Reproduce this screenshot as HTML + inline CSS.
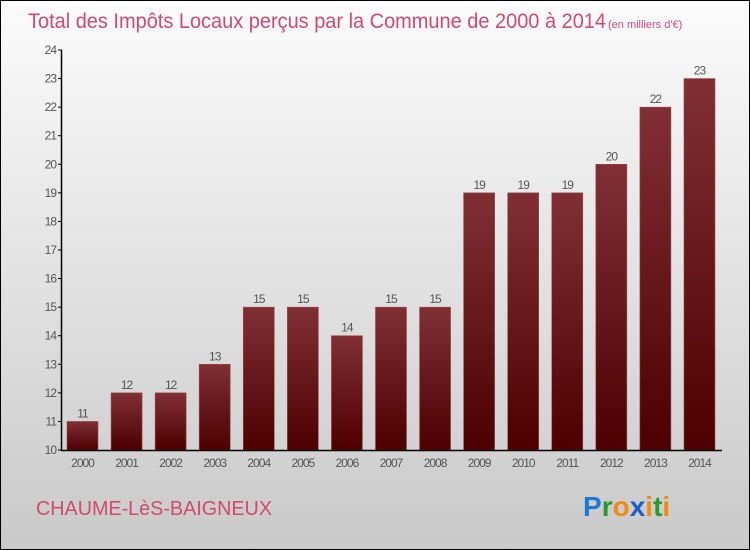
<!DOCTYPE html>
<html><head><meta charset="utf-8"><style>
body{margin:0}
#wrap{width:748px;height:548px;border:1px solid #000;background:linear-gradient(#fbfbfb,#c9c9c9);position:relative;overflow:hidden;font-family:"Liberation Sans",sans-serif}
</style></head><body>
<div id="wrap">
<svg id="chart" width="748" height="548">
<defs><linearGradient id="bg" x1="0" y1="0" x2="0" y2="1"><stop offset="0" stop-color="#812f34"/><stop offset="1" stop-color="#4d0000"/></linearGradient></defs>
<text x="27" y="27" font-size="21" fill="#d04a72" textLength="578" lengthAdjust="spacingAndGlyphs">Total des Impôts Locaux perçus par la Commune de 2000 à 2014</text>
<text x="607" y="27" font-size="11" fill="#d04a72">(en milliers d'€)</text>
<g id="marks"></g>
<text x="35" y="514" font-size="20" fill="#d04a72" textLength="236" lengthAdjust="spacingAndGlyphs">CHAUME-LèS-BAIGNEUX</text>
<g font-size="28" font-weight="bold" font-family="'Liberation Sans',sans-serif">
<text x="582" y="515"><tspan fill="#1a7ad4">P</tspan><tspan fill="#2a9a2a">r</tspan><tspan fill="#f08a10">o</tspan><tspan fill="#1a5fc8">x</tspan><tspan fill="#f08a10">i</tspan><tspan fill="#2a9a2a">t</tspan><tspan fill="#f08a10">i</tspan></text>
</g>
</svg>
</div>
<script>
const years=["2000","2001","2002","2003","2004","2005","2006","2007","2008","2009","2010","2011","2012","2013","2014"];
const values=[11,12,12,13,15,15,14,15,15,19,19,19,20,22,23];
const yTicks=[10,11,12,13,14,15,16,17,18,19,20,21,22,23,24];
const ns="http://www.w3.org/2000/svg";
const g=document.getElementById('marks');
const yMin=10,yMax=24,y0=449,y1=49;
function yS(v){return y0-(v-yMin)/(yMax-yMin)*(y0-y1);}
function xS(i){return 66+i*44.07;}
function mk(t,a){const e=document.createElementNS(ns,t);for(const k in a)e.setAttribute(k,a[k]);g.appendChild(e);return e;}
yTicks.forEach(v=>{
 const l=mk('line',{x1:57,x2:61,y1:yS(v),y2:yS(v),stroke:'#000'});
 
 
 const t=mk('text',{x:55,y:yS(v)+4,'font-size':12,fill:'#555','text-anchor':'end','letter-spacing':'-1'});
 t.textContent=v;
 
 
});
values.forEach((v,i)=>{
 const x=xS(i),y=yS(v);
 const r=mk('rect',{x:x,y:y,width:31,height:y0-y,fill:'url(#bg)',stroke:'#9a4a4a','stroke-width':0.6});
 
 
 const t=mk('text',{x:x+15.5,y:y-4,'font-size':12,fill:'#555','text-anchor':'middle','letter-spacing':'-1'});
 t.textContent=values[i];
 
 
 const xl=mk('text',{x:x+15.5,y:466,'font-size':12,fill:'#555','text-anchor':'middle','letter-spacing':'-1'});
 xl.textContent=years[i];
 
 
});
const ya=mk('line',{x1:60.5,x2:60.5,y1:y1,y2:y0+1,stroke:'#000','stroke-width':1.5});


const xa=mk('line',{x1:60,x2:721,y1:y0+0.5,y2:y0+0.5,stroke:'#000','stroke-width':1.5});


</script>
</body></html>
